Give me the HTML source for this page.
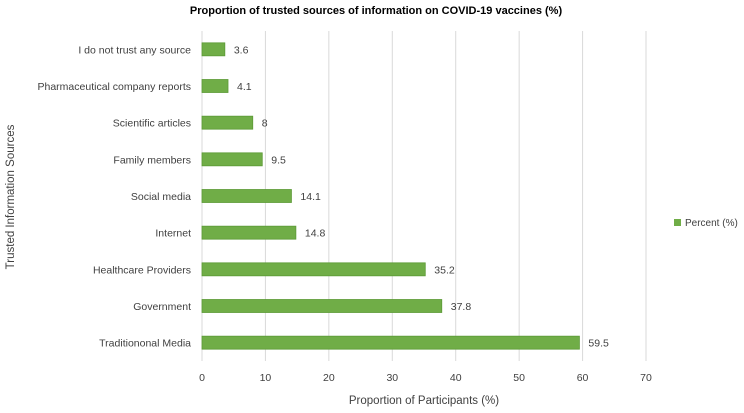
<!DOCTYPE html>
<html><head><meta charset="utf-8"><style>
body{margin:0;background:#fff;font-family:"Liberation Sans",sans-serif;}
svg text{font-family:"Liberation Sans",sans-serif;fill:#404040;}
</style></head><body>
<svg id="c" width="744" height="408" xmlns="http://www.w3.org/2000/svg">
<text x="376" y="14" text-anchor="middle" font-size="11" font-weight="bold" style="fill:#000">Proportion of trusted sources of information on COVID-19 vaccines  (%)</text>
<g id="grid"></g><g id="bars"></g><g id="labels"></g>
<text x="424" y="404" text-anchor="middle" font-size="11.5">Proportion of Participants (%)</text>
<text transform="translate(14,197) rotate(-90)" text-anchor="middle" font-size="11.5">Trusted Information Sources</text>
<g><rect x="674" y="219" width="7" height="7" fill="#70ad47"/><text x="685" y="226" font-size="10">Percent (%)</text></g>
</svg>
<script>
const categories=["I do not trust any source","Pharmaceutical company reports","Scientific articles","Family members","Social media","Internet","Healthcare Providers","Government","Traditiononal Media"];
const values=[3.6,4.1,8,9.5,14.1,14.8,35.2,37.8,59.5];
const ticks=[0,10,20,30,40,50,60,70];
const NS="http://www.w3.org/2000/svg";
const x0=202,x1=646,yTop=31,yBot=361,step=(yBot-yTop)/categories.length;
const xs=v=>x0+(v-0)/70*(x1-x0);
const yc=i=>yTop+step*(i+0.5);
function mk(t,a,p){const e=document.createElementNS(NS,t);for(const k in a)e.setAttribute(k,a[k]);p.appendChild(e);return e;}
const g=document.getElementById('grid'),b=document.getElementById('bars'),l=document.getElementById('labels');
ticks.forEach(t=>{
 const ln=mk('line',{x1:xs(t),x2:xs(t),y1:yTop,y2:yBot,stroke:'#d9d9d9','stroke-width':1},g);
 
 
 const tx=mk('text',{x:xs(t),y:381,'text-anchor':'middle','font-size':10.5},g);tx.textContent=t;
 
 
});
categories.forEach((c,i)=>{
 const r=mk('rect',{x:x0,y:yc(i)-6.5,width:xs(values[i])-x0,height:13,fill:'#70ad47',stroke:'#5c9a36','stroke-width':0.8},b);
 
 
 const v=mk('text',{x:xs(values[i])+9,y:yc(i)+4,'font-size':10.5},l);v.textContent=values[i];
 
 
 const t=mk('text',{x:191,y:yc(i)+4,'text-anchor':'end','font-size':10.5},l);t.textContent=c;
 
 
});
</script>
</body></html>
